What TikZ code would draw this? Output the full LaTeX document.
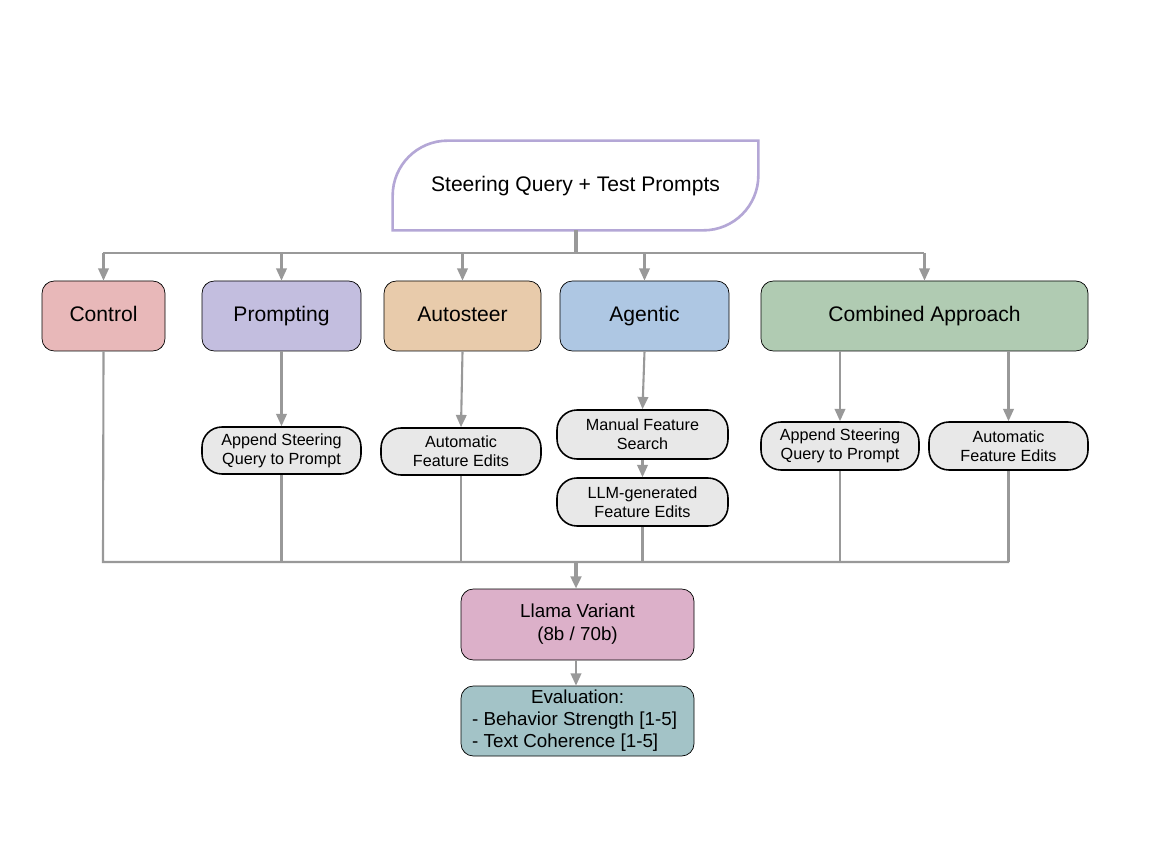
\documentclass[tikz,border=0pt]{standalone}
\usepackage{fontspec}
\setmainfont{Liberation Sans}
\usetikzlibrary{arrows.meta,backgrounds}
\definecolor{cctrl}{HTML}{E8B8B9}
\definecolor{cprompt}{HTML}{C3BEDF}
\definecolor{cauto}{HTML}{E8CBAB}
\definecolor{cagent}{HTML}{AEC7E3}
\definecolor{ccomb}{HTML}{B0CBB2}
\definecolor{cllama}{HTML}{DCB0C9}
\definecolor{ceval}{HTML}{A3C3C7}
\definecolor{cstep}{HTML}{E8E8E8}
\definecolor{cline}{HTML}{999999}
\definecolor{cquery}{HTML}{B4A7D6}
\tikzset{
  method/.style={draw=black, rounded corners=7pt, inner sep=0pt, font=\large},
  label/.style={text height=1.6ex, text depth=.4ex},
  substep/.style={draw=black, fill=cstep, line width=0.9pt, rounded corners=0.4cm, inner sep=0pt, align=center, font=\fontsize{9.2}{11}\selectfont},
  flow/.style={draw=cline, line width=1.2pt},
  arr/.style={flow, -{Triangle[length=7pt,width=6pt]}}
}
% leaf outline: top-left and bottom-right rounded
\newcommand{\leafbox}[4]{%
  \draw[#2, line width=#4] (#1.south west) -- ([yshift=-#3]#1.north west)
    arc(180:90:#3) -- (#1.north east) -- ([yshift=#3]#1.south east)
    arc(0:-90:#3) -- cycle;}
\begin{document}
\begin{tikzpicture}[x=0.02cm, y=-0.02cm]
\useasboundingbox (0,0) rectangle (1152,864);

% Query
\node[label, inner sep=0pt, minimum width=365*0.02cm, minimum height=89*0.02cm, font=\fontsize{12}{14}\selectfont] (query) at (575.5,185.5) {Steering Query + Test Prompts};
\begin{scope}[on background layer]
\leafbox{query}{draw=cquery, fill=white}{1.1cm}{1.5pt}
\end{scope}

% Methods
\node[method, label, fill=cctrl, minimum width=123*0.02cm, minimum height=70*0.02cm] (control) at (103.5,316) {Control};
\node[method, label, fill=cprompt, minimum width=159*0.02cm, minimum height=70*0.02cm] (prompting) at (281.5,316) {Prompting};
\node[method, label, fill=cauto, minimum width=157*0.02cm, minimum height=70*0.02cm] (autosteer) at (462.5,316) {Autosteer};
\node[method, label, fill=cagent, minimum width=169*0.02cm, minimum height=70*0.02cm] (agentic) at (644.5,316) {Agentic};
\node[method, label, fill=ccomb, minimum width=327*0.02cm, minimum height=70*0.02cm] (combined) at (924.5,316) {Combined Approach};

% Steps
\node[substep, minimum width=159*0.02cm, minimum height=47*0.02cm] (append) at (281.5,450.5) {Append Steering\\Query to Prompt};
\node[substep, minimum width=160*0.02cm, minimum height=47*0.02cm] (autoedit) at (461,451.5) {Automatic\\Feature Edits};
\node[substep, minimum width=171*0.02cm, minimum height=49*0.02cm] (manual) at (642.5,434.5) {Manual Feature\\Search};
\node[substep, minimum width=171*0.02cm, minimum height=48*0.02cm] (llmedit) at (642.5,502) {LLM-generated\\Feature Edits};
\node[substep, minimum width=158*0.02cm, minimum height=48*0.02cm] (appendb) at (840,446) {Append Steering\\Query to Prompt};
\node[substep, minimum width=159*0.02cm, minimum height=48*0.02cm] (autoeditb) at (1008.5,446) {Automatic\\Feature Edits};

% Model and evaluation
\node[method, fill=cllama, font=\fontsize{10.7}{13}\selectfont, align=center, minimum width=233*0.02cm, minimum height=71*0.02cm] (llama) at (577.5,624.5) {Llama Variant\\(8b / 70b)};
\node[method, fill=ceval, font=\fontsize{10.7}{12.5}\selectfont, align=center, minimum width=233*0.02cm, minimum height=70*0.02cm] (eval) at (577.5,721) {Evaluation:\\\makebox[11.2em][l]{- Behavior Strength [1-5]}\\\makebox[11.2em][l]{- Text Coherence [1-5]}};

% Top bus
\coordinate (top) at (576,253);
\draw[flow, line width=2pt] (query.south -| top) -- (top);
\draw[flow] (103,253) -- (924,253);
\foreach \n in {control,prompting,autosteer,agentic,combined}
  \draw[arr] (\n.north |- top) -- (\n.north);

% Branch arrows
\draw[arr] (prompting.south) -- (append.north);
\draw[arr] (autosteer.south) -- (autoedit.north);
\draw[arr] (agentic.south) -- (manual.north);
\draw[arr] (manual.south) -- (llmedit.north);
\draw[arr] (appendb.north |- combined.south) -- (appendb.north);
\draw[arr] (autoeditb.north |- combined.south) -- (autoeditb.north);

% Bottom bus
\coordinate (bot) at (576,562);
\draw[flow] (control.south) -- (103,562) -- (1009,562);
\foreach \n in {append,autoedit,llmedit,appendb,autoeditb}
  \draw[flow] (\n.south) -- (\n.south |- bot);
\draw[arr, line width=2pt] (bot) -- (llama.north -| bot);
\draw[arr] (llama.south -| bot) -- (eval.north -| bot);
\end{tikzpicture}
\end{document}
